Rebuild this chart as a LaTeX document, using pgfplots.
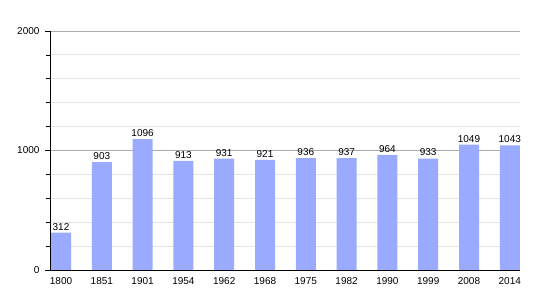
\documentclass[border=0pt]{standalone}
\usepackage{pgfplots}
\pgfplotsset{compat=1.18}
\usepackage{fontspec}
\setmainfont{Liberation Sans}
\definecolor{barc}{RGB}{153,170,255}
\definecolor{majg}{RGB}{170,170,170}
\definecolor{ming}{RGB}{228,228,228}
\begin{document}
\begin{tikzpicture}
\begin{axis}[
  scale only axis, width=470pt, height=239pt,
  xmin=-0.27, xmax=11.25, ymin=0, ymax=2000,
  axis x line*=bottom, axis y line*=left,
  axis line style={black, line width=0.8pt, -},
  xtick=data,
  xticklabels={1800,1851,1901,1954,1962,1968,1975,1982,1990,1999,2008,2014},
  x tick style={draw=none},
  ytick={0,1000,2000},
  minor ytick={200,400,600,800,1200,1400,1600,1800},
  y tick style={black, line width=0.6pt},
  tick align=outside, major tick length=5pt, minor tick length=4pt,
  ymajorgrids, yminorgrids,
  major grid style={majg, line width=0.8pt},
  minor grid style={ming, line width=0.8pt},
  tick label style={font=\fontsize{10}{12}\selectfont},
  /pgf/number format/assume math mode=true,
  scaled y ticks=false,
  yticklabel style={/pgf/number format/set thousands separator={}, xshift=-2pt},
  xticklabel style={yshift=1pt},
  nodes near coords,
  nodes near coords style={font=\fontsize{10}{12}\selectfont, /pgf/number format/set thousands separator={}, yshift=-1pt},
]
\addplot[ybar, bar width=20pt, fill=barc, draw=none, bar shift=0pt] coordinates {
(0,312) (1,903) (2,1096) (3,913) (4,931) (5,921) (6,936) (7,937) (8,964) (9,933) (10,1049) (11,1043)};
\end{axis}
\path (current axis.south west) ++(-50pt,-30pt) rectangle ++(550pt,300pt);
\end{tikzpicture}
\end{document}
